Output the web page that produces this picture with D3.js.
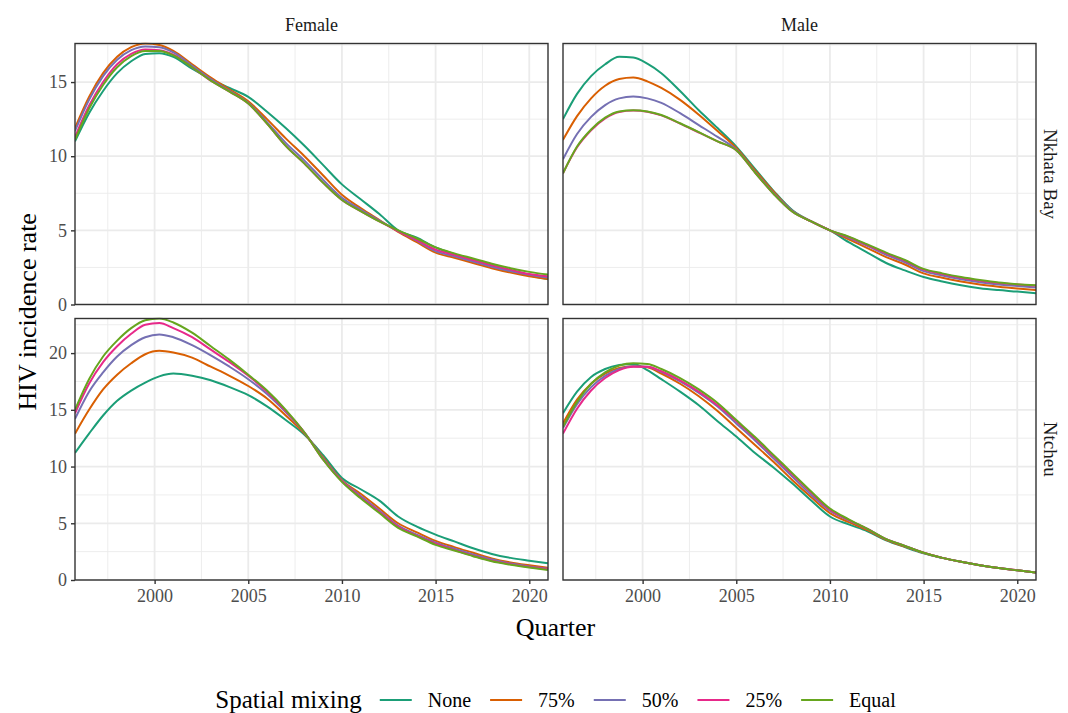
<!DOCTYPE html>
<html>
<head>
<meta charset="utf-8">
<script src="https://cdn.jsdelivr.net/npm/d3@7"></script>
<style>
  body { margin: 0; background: #fff; }
  svg { display: block; }
  text { font-family: "Liberation Serif", "DejaVu Serif", serif; }
</style>
</head>
<body>
<svg id="chart" width="1068" height="713"></svg>
<script>
// Model time points (decimal years)
const quarters = [1995.75, 1996.5, 1997.25, 1998, 1998.75, 1999.5, 2000.25, 2001, 2002, 2003,
  2004, 2005, 2006, 2007, 2008, 2009, 2010, 2011, 2012, 2013, 2014, 2015, 2016, 2017,
  2018, 2019, 2020, 2021];

const scenarios = ["None", "75%", "50%", "25%", "Equal"];
const scenarioColors = ["#1B9E77", "#D95F02", "#7570B3", "#E7298A", "#66A61E"];
const sexes = ["Female", "Male"];
const districts = ["Nkhata Bay", "Ntcheu"];

// HIV incidence per scenario (rows follow `scenarios`)
const nkhataBayFemale = [
  [11.0, 12.9, 14.4, 15.6, 16.4, 16.9, 16.95, 16.7, 15.9, 15.2, 14.6, 14.0, 13.0, 11.9, 10.7, 9.4, 8.1, 7.1, 6.1, 5.0, 4.5, 3.85, 3.4, 3.0, 2.6, 2.25, 1.95, 1.7],
  [11.9, 14.0, 15.6, 16.7, 17.35, 17.6, 17.5, 17.1, 16.2, 15.3, 14.5, 13.7, 12.5, 11.2, 10.0, 8.7, 7.4, 6.5, 5.7, 4.9, 4.2, 3.5, 3.15, 2.8, 2.45, 2.15, 1.9, 1.72],
  [11.7, 13.8, 15.4, 16.5, 17.15, 17.4, 17.35, 17.0, 16.1, 15.2, 14.4, 13.6, 12.3, 10.9, 9.7, 8.4, 7.2, 6.4, 5.65, 4.95, 4.3, 3.6, 3.25, 2.9, 2.55, 2.25, 2.0, 1.82],
  [11.3, 13.4, 15.0, 16.2, 16.9, 17.2, 17.15, 16.85, 16.0, 15.1, 14.35, 13.55, 12.2, 10.7, 9.5, 8.2, 7.05, 6.3, 5.6, 4.95, 4.35, 3.7, 3.35, 3.0, 2.65, 2.35, 2.05, 1.9],
  [11.1, 13.2, 14.8, 16.0, 16.75, 17.1, 17.1, 16.8, 16.0, 15.1, 14.35, 13.55, 12.2, 10.7, 9.5, 8.2, 7.05, 6.3, 5.6, 5.0, 4.45, 3.85, 3.45, 3.1, 2.75, 2.45, 2.2, 2.02]
];
const nkhataBayMale = [
  [12.5, 14.2, 15.4, 16.2, 16.7, 16.65, 16.25, 15.6, 14.4, 13.1, 11.9, 10.65, 9.15, 7.65, 6.35, 5.6, 5.0, 4.2, 3.5, 2.8, 2.3, 1.85, 1.55, 1.3, 1.1, 0.97, 0.87, 0.75],
  [11.1, 12.7, 13.9, 14.75, 15.2, 15.3, 15.05, 14.6, 13.8, 12.8, 11.7, 10.55, 9.05, 7.6, 6.3, 5.6, 5.0, 4.4, 3.8, 3.2, 2.7, 2.1, 1.8, 1.55, 1.35, 1.2, 1.08, 0.98],
  [9.8, 11.5, 12.65, 13.45, 13.9, 14.02, 13.9, 13.6, 12.9, 12.1, 11.3, 10.45, 8.95, 7.5, 6.3, 5.6, 5.0, 4.5, 3.95, 3.35, 2.85, 2.25, 1.95, 1.7, 1.5, 1.35, 1.25, 1.15],
  [8.85, 10.6, 11.75, 12.55, 12.98, 13.08, 13.0, 12.75, 12.2, 11.6, 11.0, 10.4, 8.9, 7.45, 6.25, 5.6, 5.0, 4.55, 4.0, 3.45, 2.95, 2.35, 2.05, 1.8, 1.6, 1.45, 1.35, 1.27],
  [8.85, 10.65, 11.8, 12.6, 13.02, 13.1, 13.02, 12.78, 12.22, 11.62, 11.0, 10.4, 8.9, 7.45, 6.25, 5.6, 5.0, 4.58, 4.05, 3.5, 3.0, 2.4, 2.1, 1.85, 1.65, 1.48, 1.37, 1.29]
];
const ntcheuFemale = [
  [11.2, 12.9, 14.5, 15.8, 16.7, 17.4, 17.95, 18.2, 18.0, 17.6, 17.0, 16.3, 15.3, 14.1, 12.8, 11.0, 9.0, 8.0, 7.0, 5.6, 4.7, 4.0, 3.4, 2.8, 2.3, 1.95, 1.7, 1.47],
  [12.9, 15.0, 16.8, 18.1, 19.1, 19.9, 20.2, 20.05, 19.6, 18.8, 18.0, 17.1, 16.0, 14.5, 12.9, 10.8, 8.8, 7.6, 6.3, 5.0, 4.2, 3.45, 2.9, 2.4, 1.9, 1.55, 1.3, 1.08],
  [14.2, 16.6, 18.3, 19.7, 20.7, 21.4, 21.65, 21.4, 20.7, 19.8, 18.8, 17.7, 16.4, 14.8, 13.0, 10.7, 8.75, 7.4, 6.1, 4.8, 4.0, 3.3, 2.75, 2.25, 1.8, 1.45, 1.2, 1.0],
  [14.7, 17.3, 19.2, 20.6, 21.7, 22.5, 22.65, 22.2, 21.4, 20.3, 19.2, 18.0, 16.6, 14.9, 13.0, 10.6, 8.7, 7.3, 6.0, 4.7, 3.9, 3.2, 2.65, 2.15, 1.7, 1.4, 1.15, 0.95],
  [15.0, 17.7, 19.7, 21.1, 22.2, 22.9, 23.05, 22.7, 21.8, 20.6, 19.4, 18.1, 16.7, 15.0, 13.0, 10.6, 8.65, 7.2, 5.9, 4.6, 3.85, 3.1, 2.6, 2.1, 1.65, 1.35, 1.1, 0.88]
];
const ntcheuMale = [
  [14.7, 16.6, 17.9, 18.6, 18.95, 19.05, 18.5, 17.7, 16.6, 15.4, 14.0, 12.65, 11.2, 9.9, 8.5, 7.0, 5.6, 4.9, 4.3, 3.5, 2.9, 2.35, 1.95, 1.6, 1.3, 1.05, 0.85, 0.65],
  [13.8, 15.9, 17.3, 18.2, 18.7, 18.85, 18.75, 18.2, 17.3, 16.2, 14.9, 13.4, 11.9, 10.4, 8.8, 7.3, 5.9, 5.1, 4.4, 3.55, 2.95, 2.4, 1.95, 1.6, 1.3, 1.05, 0.85, 0.66],
  [13.4, 15.5, 17.0, 18.0, 18.6, 18.85, 18.8, 18.35, 17.5, 16.5, 15.3, 13.8, 12.3, 10.7, 9.1, 7.5, 6.1, 5.25, 4.5, 3.6, 3.0, 2.4, 1.95, 1.6, 1.3, 1.05, 0.85, 0.66],
  [12.9, 15.1, 16.7, 17.8, 18.5, 18.8, 18.8, 18.4, 17.6, 16.6, 15.4, 14.0, 12.5, 10.9, 9.3, 7.7, 6.2, 5.3, 4.5, 3.6, 3.0, 2.4, 1.95, 1.6, 1.3, 1.05, 0.85, 0.66],
  [13.5, 15.7, 17.3, 18.3, 18.9, 19.1, 19.05, 18.6, 17.8, 16.8, 15.6, 14.1, 12.6, 11.0, 9.4, 7.8, 6.3, 5.35, 4.5, 3.6, 3.0, 2.4, 1.95, 1.6, 1.3, 1.05, 0.85, 0.65]
];

const xTickValues = [2000, 2005, 2010, 2015, 2020];
const xMinorValues = [1997.5, 2002.5, 2007.5, 2012.5, 2017.5];
const yTickValuesByRow = [[0, 5, 10, 15], [0, 5, 10, 15, 20]];

// panel grid: rows = district, columns = sex
const panelData = [[nkhataBayFemale, nkhataBayMale], [ntcheuFemale, ntcheuMale]];

const colX = [[75, 548], [563, 1036]];
const rowY = [[43.5, 304.5], [318.5, 580]];

const svg = d3.select("#chart");
const tickColor = "#333333";
const labelColor = "#4d4d4d";
const lineWidth = 2;

// x domain spans the full simulation period with no padding
const xDomain = d3.extent(quarters);

rowY.forEach((ry, r) => {
  // shared y scale per row (free y across districts)
  const rowMax = d3.max(panelData[r].flat(2));
  const y = d3.scaleLinear().domain([0, rowMax]).range([ry[1], ry[0]]);
  const yTicks = yTickValuesByRow[r];
  const yMinor = d3.range(2.5, rowMax, 5);

  colX.forEach((cx, c) => {
    const x = d3.scaleLinear().domain(xDomain).range([cx[0], cx[1]]);
    const g = svg.append("g");

    g.append("rect").attr("x", cx[0]).attr("y", ry[0])
      .attr("width", cx[1] - cx[0]).attr("height", ry[1] - ry[0]).attr("fill", "#fff");

    // minor grid
    g.selectAll(".xminor").data(xMinorValues).join("line")
      .attr("x1", d => x(d)).attr("x2", d => x(d)).attr("y1", ry[0]).attr("y2", ry[1])
      .attr("stroke", "#ebebeb").attr("stroke-width", 0.9);
    g.selectAll(".yminor").data(yMinor).join("line")
      .attr("x1", cx[0]).attr("x2", cx[1]).attr("y1", d => y(d)).attr("y2", d => y(d))
      .attr("stroke", "#ebebeb").attr("stroke-width", 0.9);
    // major grid
    g.selectAll(".xmajor").data(xTickValues).join("line")
      .attr("x1", d => x(d)).attr("x2", d => x(d)).attr("y1", ry[0]).attr("y2", ry[1])
      .attr("stroke", "#ebebeb").attr("stroke-width", 1.8);
    g.selectAll(".ymajor").data(yTicks).join("line")
      .attr("x1", cx[0]).attr("x2", cx[1]).attr("y1", d => y(d)).attr("y2", d => y(d))
      .attr("stroke", "#ebebeb").attr("stroke-width", 1.8);

    // scenario lines
    const clipId = `clip-${r}-${c}`;
    svg.append("clipPath").attr("id", clipId).append("rect")
      .attr("x", cx[0]).attr("y", ry[0] - 1).attr("width", cx[1] - cx[0]).attr("height", ry[1] - ry[0] + 1);
    const line = d3.line().x(d => x(d[0])).y(d => y(d[1])).curve(d3.curveMonotoneX);
    const series = panelData[r][c];
    g.append("g").attr("clip-path", `url(#${clipId})`)
      .selectAll("path").data(series).join("path")
      .attr("d", vals => line(quarters.map((q, i) => [q, vals[i]])))
      .attr("fill", "none")
      .attr("stroke", (d, i) => scenarioColors[i])
      .attr("stroke-width", lineWidth)
      .attr("stroke-linejoin", "round");

    // panel border
    g.append("rect").attr("x", cx[0]).attr("y", ry[0])
      .attr("width", cx[1] - cx[0]).attr("height", ry[1] - ry[0])
      .attr("fill", "none").attr("stroke", tickColor).attr("stroke-width", 1.4);

    // y axis only on first column
    if (c === 0) {
      const ax = g.append("g").attr("transform", `translate(${cx[0]},0)`)
        .call(d3.axisLeft(y).tickValues(yTicks).tickSize(4).tickPadding(4).tickFormat(d3.format("d")));
      ax.select(".domain").remove();
      ax.selectAll(".tick line").attr("stroke", tickColor).attr("stroke-width", 1.4);
      ax.selectAll(".tick text").attr("fill", labelColor).style("font-size", "18px")
        .style("font-family", '"Liberation Serif", serif');
    }
    // x axis only on bottom row
    if (r === 1) {
      const ax = g.append("g").attr("transform", `translate(0,${ry[1]})`)
        .call(d3.axisBottom(x).tickValues(xTickValues).tickSize(4).tickPadding(5).tickFormat(d3.format("d")));
      ax.select(".domain").remove();
      ax.selectAll(".tick line").attr("stroke", tickColor).attr("stroke-width", 1.4);
      ax.selectAll(".tick text").attr("fill", labelColor).style("font-size", "18px")
        .style("font-family", '"Liberation Serif", serif');
    }
    // column strips
    if (r === 0) {
      svg.append("text").attr("x", (cx[0] + cx[1]) / 2).attr("y", 31)
        .attr("text-anchor", "middle").attr("fill", "#1a1a1a").style("font-size", "18px")
        .text(sexes[c]);
    }
  });
  // row strips
  const cy = (ry[0] + ry[1]) / 2;
  svg.append("text").attr("transform", `translate(1044,${cy}) rotate(90)`)
    .attr("text-anchor", "middle").attr("fill", "#1a1a1a").style("font-size", "19px")
    .text(districts[r]);
});

// axis titles
svg.append("text").attr("x", (colX[0][0] + colX[1][1]) / 2).attr("y", 636)
  .attr("text-anchor", "middle").attr("fill", "#000").style("font-size", "26px").text("Quarter");
svg.append("text").attr("transform", `translate(36,${(rowY[0][0] + rowY[1][1]) / 2}) rotate(-90)`)
  .attr("text-anchor", "middle").attr("fill", "#000").style("font-size", "26px").text("HIV incidence rate");

// legend
const legend = svg.append("g");
const legendY = 700;
const title = legend.append("text").attr("x", 0).attr("y", legendY + 8)
  .attr("fill", "#000").style("font-size", "25px").text("Spatial mixing");
let lx = title.node().getComputedTextLength() + 18;
scenarios.forEach((s, i) => {
  legend.append("line").attr("x1", lx).attr("x2", lx + 32)
    .attr("y1", legendY).attr("y2", legendY)
    .attr("stroke", scenarioColors[i]).attr("stroke-width", lineWidth);
  const t = legend.append("text").attr("x", lx + 48).attr("y", legendY + 7)
    .attr("fill", "#000").style("font-size", "20px").text(s);
  lx += 48 + t.node().getComputedTextLength() + 19;
});
const legendWidth = lx - 19;
legend.attr("transform", `translate(${(colX[0][0] + colX[1][1]) / 2 - legendWidth / 2},0)`);
</script>
</body>
</html>
